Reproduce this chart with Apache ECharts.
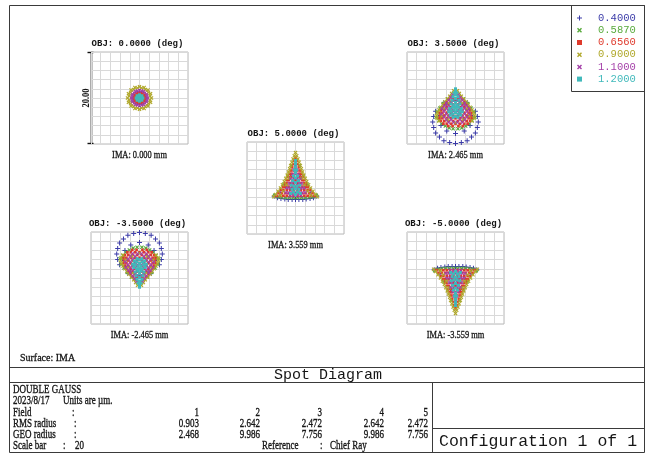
<!DOCTYPE html>
<html>
<head>
<meta charset="utf-8">
<script src="https://cdn.jsdelivr.net/npm/echarts@6/dist/echarts.min.js"></script>
<style>
html,body{margin:0;padding:0;background:#fff;}
#chart{width:653px;height:455px;}
</style>
</head>
<body>
<div id="chart"></div>
<script>
// ---- Wavelengths (µm) and field information ----
const wavelengths = ['0.4000', '0.5870', '0.6560', '0.9000', '1.1000', '1.2000'];
const objLabels = ['OBJ: 0.0000 (deg)', 'OBJ: 3.5000 (deg)', 'OBJ: 5.0000 (deg)', 'OBJ: -3.5000 (deg)', 'OBJ: -5.0000 (deg)'];
const imaLabels = ['IMA: 0.000 mm', 'IMA: 2.465 mm', 'IMA: 3.559 mm', 'IMA: -2.465 mm', 'IMA: -3.559 mm'];
const fieldNumbers = ['1', '2', '3', '4', '5'];
const rmsRadius = ['0.903', '2.642', '2.472', '2.642', '2.472'];
const geoRadius = ['2.468', '9.986', '7.756', '9.986', '7.756'];
const scaleBar = 20; // µm, full box size
const axisTicks = [-10, -8, -6, -4, -2, 0, 2, 4, 6, 8, 10];

// ---- Spot positions relative to chief ray, µm [x, y] ----
// Field 1 (0 deg)
const f1_w1 = [[0,0],[1.4,0],[1.21,0.7],[0.7,1.21],[0,1.4],[-0.7,1.21],[-1.21,0.7],[-1.4,0],[-1.21,-0.7],[-0.7,-1.21],[0,-1.4],[0.7,-1.21],[1.21,-0.7]];
const f1_w2 = [[1,0],[0.87,0.5],[0.5,0.87],[0,1],[-0.5,0.87],[-0.87,0.5],[-1,0],[-0.87,-0.5],[-0.5,-0.87],[0,-1],[0.5,-0.87],[0.87,-0.5]];
const f1_w3 = [[1.2,0],[1.04,0.6],[0.6,1.04],[0,1.2],[-0.6,1.04],[-1.04,0.6],[-1.2,0],[-1.04,-0.6],[-0.6,-1.04],[0,-1.2],[0.6,-1.04],[1.04,-0.6],
  [0.64,0.64],[-0.64,0.64],[-0.64,-0.64],[0.64,-0.64],[0.9,0],[0,0.9],[-0.9,0],[0,-0.9]];
const f1_w4 = [[2.47,0],[2.28,0.95],[1.75,1.75],[0.95,2.28],[0,2.47],[-0.95,2.28],[-1.75,1.75],[-2.28,0.95],[-2.47,0],[-2.28,-0.95],[-1.75,-1.75],[-0.95,-2.28],[0,-2.47],[0.95,-2.28],[1.75,-1.75],[2.28,-0.95],
  [2.16,0.43],[1.83,1.22],[1.22,1.83],[0.43,2.16],[-0.43,2.16],[-1.22,1.83],[-1.83,1.22],[-2.16,0.43],[-2.16,-0.43],[-1.83,-1.22],[-1.22,-1.83],[-0.43,-2.16],[0.43,-2.16],[1.22,-1.83],[1.83,-1.22],[2.16,-0.43]];
const f1_w5 = [[1.65,0],[1.43,0.83],[0.83,1.43],[0,1.65],[-0.83,1.43],[-1.43,0.83],[-1.65,0],[-1.43,-0.83],[-0.83,-1.43],[0,-1.65],[0.83,-1.43],[1.43,-0.83],
  [1.55,0.41],[1.13,1.13],[0.41,1.55],[-0.41,1.55],[-1.13,1.13],[-1.55,0.41],[-1.55,-0.41],[-1.13,-1.13],[-0.41,-1.55],[0.41,-1.55],[1.13,-1.13],[1.55,-0.41]];
const f1_w6 = [[0,0],[0.35,0],[0.18,0.3],[-0.18,0.3],[-0.35,0],[-0.18,-0.3],[0.18,-0.3],[0.7,0],[0.49,0.49],[0,0.7],[-0.49,0.49],[-0.7,0],[-0.49,-0.49],[0,-0.7],[0.49,-0.49]];

// Field 2 (3.5 deg): coma fan opening downward
const f2_w1 = [[4.1,-2.9],[4.5,-4.0],[4.7,-5.2],[4.5,-6.4],[4.1,-7.6],[3.3,-8.5],[2.4,-9.3],[1.2,-9.7],[0,-9.9],[-1.2,-9.7],[-2.4,-9.3],[-3.3,-8.5],[-4.1,-7.6],[-4.5,-6.4],[-4.7,-5.2],[-4.5,-4.0],[-4.1,-2.9],[-2.4,-1.1],[0,-0.5],[2.4,-1.1],
  [3.5,-4.2],[3.0,-2.5],[3.0,-6.0],[1.8,-7.2],[0,-7.7],[-1.8,-7.2],[-3.0,-6.0],[-3.5,-4.2],[-3.0,-2.5],[-1.8,-1.2],[0,-0.7],[1.8,-1.2]];
const f2_w2 = [[0.5,-6.7],[-0.5,-6.7],[1.3,-6.5],[-1.3,-6.5],[2.1,-6.1],[-2.1,-6.1],[2.8,-5.6],[-2.8,-5.6],[3.4,-4.9],[-3.4,-4.9],[4.0,-4.2],[-4.0,-4.2],
  [3.8,-3.0],[-3.8,-3.0],[3.2,-2.2],[-3.2,-2.2],[2.5,-1.2],[-2.5,-1.2],[1.6,-0.2],[-1.6,-0.2]];
const f2_w3 = [[0.35,1.0],[-0.35,1.0],[0.8,0.4],[-0.8,0.4],[0.6,-0.2],[-0.6,-0.2],[1.3,-0.2],[-1.3,-0.2],
  [0,-0.8],[0.9,-0.8],[-0.9,-0.8],[1.8,-0.8],[-1.8,-0.8],
  [0.5,-1.4],[-0.5,-1.4],[1.4,-1.4],[-1.4,-1.4],[2.2,-1.4],[-2.2,-1.4],
  [0,-2.0],[0.9,-2.0],[-0.9,-2.0],[1.8,-2.0],[-1.8,-2.0],[2.6,-2.0],[-2.6,-2.0],
  [0.5,-2.6],[-0.5,-2.6],[1.4,-2.6],[-1.4,-2.6],[2.3,-2.6],[-2.3,-2.6],[3.0,-2.6],[-3.0,-2.6],
  [0,-3.2],[0.9,-3.2],[-0.9,-3.2],[1.8,-3.2],[-1.8,-3.2],[2.7,-3.2],[-2.7,-3.2],[3.3,-3.2],[-3.3,-3.2],
  [0.5,-3.8],[-0.5,-3.8],[1.4,-3.8],[-1.4,-3.8],[2.3,-3.8],[-2.3,-3.8],[3.2,-3.8],[-3.2,-3.8],
  [0,-4.4],[0.9,-4.4],[-0.9,-4.4],[1.8,-4.4],[-1.8,-4.4],[2.7,-4.4],[-2.7,-4.4],[3.3,-4.4],[-3.3,-4.4],
  [0.5,-5.0],[-0.5,-5.0],[1.4,-5.0],[-1.4,-5.0],[2.3,-5.0],[-2.3,-5.0],[3.0,-5.0],[-3.0,-5.0],
  [0,-5.6],[0.9,-5.6],[-0.9,-5.6],[1.8,-5.6],[-1.8,-5.6],[2.5,-5.6],[-2.5,-5.6],
  [0.6,-6.1],[-0.6,-6.1],[1.5,-6.1],[-1.5,-6.1]];
const f2_w4 = [[0.4,1.6],[-0.4,1.6],[0.8,1.0],[-0.8,1.0],[1.2,0.4],[-1.2,0.4],[1.7,-0.2],[-1.7,-0.2],[2.2,-0.8],[-2.2,-0.8],[2.6,-1.4],[-2.6,-1.4],
  [3.0,-2.0],[-3.0,-2.0],[3.4,-2.6],[-3.4,-2.6],[3.7,-3.2],[-3.7,-3.2],[3.9,-3.8],[-3.9,-3.8],[3.8,-4.4],[-3.8,-4.4],[3.4,-5.0],[-3.4,-5.0],
  [1.4,-1.1],[-1.4,-1.1],[2.3,-2.3],[-2.3,-2.3],[0.9,-2.9],[-0.9,-2.9],[2.8,-3.9],[-2.8,-3.9],[1.6,-4.7],[-1.6,-4.7],[0,-5.4]];
const f2_w5 = [[0.6,0.7],[-0.6,0.7],[1.0,0.1],[-1.0,0.1],[0.4,-0.5],[-0.4,-0.5],[1.4,-0.5],[-1.4,-0.5],
  [0.9,-1.1],[-0.9,-1.1],[1.9,-1.1],[-1.9,-1.1],[0.4,-1.7],[-0.4,-1.7],[1.4,-1.7],[-1.4,-1.7],[2.3,-1.7],[-2.3,-1.7],
  [0.9,-2.3],[-0.9,-2.3],[1.9,-2.3],[-1.9,-2.3],[2.8,-2.3],[-2.8,-2.3],[0.4,-2.9],[-0.4,-2.9],[1.4,-2.9],[-1.4,-2.9],[2.4,-2.9],[-2.4,-2.9],
  [0.9,-3.5],[-0.9,-3.5],[1.9,-3.5],[-1.9,-3.5],[2.9,-3.5],[-2.9,-3.5],[0.4,-4.1],[-0.4,-4.1],[1.4,-4.1],[-1.4,-4.1],[2.4,-4.1],[-2.4,-4.1],
  [0.9,-4.7],[-0.9,-4.7],[1.9,-4.7],[-1.9,-4.7],[0.4,-5.3],[-0.4,-5.3],[1.4,-5.3],[-1.4,-5.3]];
const f2_w6 = [[0,2.0],[0,1.5],[0.3,1.1],[-0.3,1.1],[0,0.7],[0.5,0.3],[-0.5,0.3],[0,-0.1],[0.7,-0.5],[-0.7,-0.5],[0,-0.9],[0.9,-1.3],[-0.9,-1.3],
  [0.3,-1.5],[-0.3,-1.5],[0,-2.0],[0.6,-2.0],[-0.6,-2.0],[1.2,-2.3],[-1.2,-2.3],[0.3,-2.6],[-0.3,-2.6],[0.9,-2.9],[-0.9,-2.9],[1.4,-3.0],[-1.4,-3.0],
  [0,-3.2],[0.6,-3.5],[-0.6,-3.5],[1.1,-3.7],[-1.1,-3.7],[0,-4.0],[0.5,-4.2],[-0.5,-4.2]];

// Field 3 (5 deg): triangular spot, apex up
const f3_w1 = [[-4.4,-1.8],[-3.7,-2.1],[-3.0,-2.3],[-2.2,-2.4],[-1.5,-2.5],[-0.7,-2.5],[0,-2.5],[0.7,-2.5],[1.5,-2.5],[2.2,-2.4],[3.0,-2.3],[3.7,-2.1],[4.4,-1.8],
  [0,5.2],[-1.0,2.4],[1.0,2.4],[-2.1,0.4],[2.1,0.4],[-3.2,-0.9],[3.2,-0.9]];
const f3_w2 = [[4.3,-1.6],[-4.3,-1.6],[3.6,-1.9],[-3.6,-1.9],[2.8,-2.0],[-2.8,-2.0],[2.0,-2.1],[-2.0,-2.1],[1.2,-2.1],[-1.2,-2.1],[0.4,-2.1],[-0.4,-2.1],
  [2.4,0.8],[-2.4,0.8],[1.6,2.6],[-1.6,2.6],[0.8,4.8],[-0.8,4.8]];
const f3_w3 = [[0,6.6],[0.3,5.9],[-0.3,5.9],[0.4,5.2],[-0.4,5.2],[0,4.5],[0.7,4.5],[-0.7,4.5],[0.4,3.8],[-0.4,3.8],[1.0,3.8],[-1.0,3.8],
  [0,3.1],[0.7,3.1],[-0.7,3.1],[1.2,3.1],[-1.2,3.1],[0.4,2.4],[-0.4,2.4],[1.0,2.4],[-1.0,2.4],[1.5,2.4],[-1.5,2.4],
  [0,1.7],[0.7,1.7],[-0.7,1.7],[1.4,1.7],[-1.4,1.7],[1.8,1.7],[-1.8,1.7],[0.4,1.0],[-0.4,1.0],[1.1,1.0],[-1.1,1.0],[1.8,1.0],[-1.8,1.0],[2.1,1.0],[-2.1,1.0],
  [0,0.3],[0.7,0.3],[-0.7,0.3],[1.4,0.3],[-1.4,0.3],[2.1,0.3],[-2.1,0.3],[2.5,0.3],[-2.5,0.3],
  [0.4,-0.4],[-0.4,-0.4],[1.1,-0.4],[-1.1,-0.4],[1.8,-0.4],[-1.8,-0.4],[2.5,-0.4],[-2.5,-0.4],[3.0,-0.4],[-3.0,-0.4],
  [0,-1.1],[0.7,-1.1],[-0.7,-1.1],[1.4,-1.1],[-1.4,-1.1],[2.1,-1.1],[-2.1,-1.1],[2.8,-1.1],[-2.8,-1.1],[3.5,-1.1],[-3.5,-1.1],
  [0.4,-1.7],[-0.4,-1.7],[1.1,-1.7],[-1.1,-1.7],[1.8,-1.7],[-1.8,-1.7],[2.5,-1.7],[-2.5,-1.7],[3.2,-1.7],[-3.2,-1.7],[3.9,-1.7],[-3.9,-1.7]];
const f3_w4 = [[0,7.7],[0.25,7.0],[-0.25,7.0],[0.5,6.3],[-0.5,6.3],[0.75,5.6],[-0.75,5.6],[1.0,4.9],[-1.0,4.9],[1.2,4.2],[-1.2,4.2],[1.45,3.5],[-1.45,3.5],
  [1.7,2.8],[-1.7,2.8],[2.0,2.1],[-2.0,2.1],[2.3,1.4],[-2.3,1.4],[2.7,0.7],[-2.7,0.7],[3.1,0.0],[-3.1,0.0],[3.6,-0.7],[-3.6,-0.7],[4.1,-1.4],[-4.1,-1.4],[4.5,-1.9],[-4.5,-1.9],
  [1.3,2.1],[-1.3,2.1],[1.9,0.7],[-1.9,0.7],[2.5,-0.7],[-2.5,-0.7],[3.1,-1.6],[-3.1,-1.6]];
const f3_w5 = [[0,5.0],[0.3,4.0],[-0.3,4.0],[0,3.0],[0.6,3.0],[-0.6,3.0],[0.4,2.0],[-0.4,2.0],[1.0,2.0],[-1.0,2.0],
  [0,1.0],[0.7,1.0],[-0.7,1.0],[1.3,1.0],[-1.3,1.0],[0.4,0.0],[-0.4,0.0],[1.1,0.0],[-1.1,0.0],[1.7,0.0],[-1.7,0.0],
  [0,-1.0],[0.7,-1.0],[-0.7,-1.0],[1.4,-1.0],[-1.4,-1.0],[2.0,-1.0],[-2.0,-1.0],[0.4,-1.6],[-0.4,-1.6],[1.1,-1.6],[-1.1,-1.6]];
const f3_w6 = [[0,6.0],[0,5.3],[0,4.6],[0.2,3.9],[-0.2,3.9],[0,3.3],[0.4,2.6],[-0.4,2.6],[0,2.2],[0.6,1.6],[-0.6,1.6],[0,1.2],[0.9,0.6],[-0.9,0.6],
  [0.3,0.4],[-0.3,0.4],[0,-0.2],[0.7,-0.3],[-0.7,-0.3],[0.4,-0.9],[-0.4,-0.9],[1.0,-1.2],[-1.0,-1.2],[0,-1.4]];

// Field 4 (-3.5 deg): coma fan opening upward
const f4_w1 = [[4.1,2.9],[4.5,4.0],[4.7,5.2],[4.5,6.4],[4.1,7.6],[3.3,8.5],[2.4,9.3],[1.2,9.7],[0,9.9],[-1.2,9.7],[-2.4,9.3],[-3.3,8.5],[-4.1,7.6],[-4.5,6.4],[-4.7,5.2],[-4.5,4.0],[-4.1,2.9],[-2.4,1.1],[0,0.5],[2.4,1.1],
  [3.5,4.2],[3.0,2.5],[3.0,6.0],[1.8,7.2],[0,7.7],[-1.8,7.2],[-3.0,6.0],[-3.5,4.2],[-3.0,2.5],[-1.8,1.2],[0,0.7],[1.8,1.2]];
const f4_w2 = [[0.5,6.7],[-0.5,6.7],[1.3,6.5],[-1.3,6.5],[2.1,6.1],[-2.1,6.1],[2.8,5.6],[-2.8,5.6],[3.4,4.9],[-3.4,4.9],[4.0,4.2],[-4.0,4.2],
  [3.8,3.0],[-3.8,3.0],[3.2,2.2],[-3.2,2.2],[2.5,1.2],[-2.5,1.2],[1.6,0.2],[-1.6,0.2]];
const f4_w3 = [[0.35,-1.0],[-0.35,-1.0],[0.8,-0.4],[-0.8,-0.4],[0.6,0.2],[-0.6,0.2],[1.3,0.2],[-1.3,0.2],
  [0,0.8],[0.9,0.8],[-0.9,0.8],[1.8,0.8],[-1.8,0.8],
  [0.5,1.4],[-0.5,1.4],[1.4,1.4],[-1.4,1.4],[2.2,1.4],[-2.2,1.4],
  [0,2.0],[0.9,2.0],[-0.9,2.0],[1.8,2.0],[-1.8,2.0],[2.6,2.0],[-2.6,2.0],
  [0.5,2.6],[-0.5,2.6],[1.4,2.6],[-1.4,2.6],[2.3,2.6],[-2.3,2.6],[3.0,2.6],[-3.0,2.6],
  [0,3.2],[0.9,3.2],[-0.9,3.2],[1.8,3.2],[-1.8,3.2],[2.7,3.2],[-2.7,3.2],[3.3,3.2],[-3.3,3.2],
  [0.5,3.8],[-0.5,3.8],[1.4,3.8],[-1.4,3.8],[2.3,3.8],[-2.3,3.8],[3.2,3.8],[-3.2,3.8],
  [0,4.4],[0.9,4.4],[-0.9,4.4],[1.8,4.4],[-1.8,4.4],[2.7,4.4],[-2.7,4.4],[3.3,4.4],[-3.3,4.4],
  [0.5,5.0],[-0.5,5.0],[1.4,5.0],[-1.4,5.0],[2.3,5.0],[-2.3,5.0],[3.0,5.0],[-3.0,5.0],
  [0,5.6],[0.9,5.6],[-0.9,5.6],[1.8,5.6],[-1.8,5.6],[2.5,5.6],[-2.5,5.6],
  [0.6,6.1],[-0.6,6.1],[1.5,6.1],[-1.5,6.1]];
const f4_w4 = [[0.4,-1.6],[-0.4,-1.6],[0.8,-1.0],[-0.8,-1.0],[1.2,-0.4],[-1.2,-0.4],[1.7,0.2],[-1.7,0.2],[2.2,0.8],[-2.2,0.8],[2.6,1.4],[-2.6,1.4],
  [3.0,2.0],[-3.0,2.0],[3.4,2.6],[-3.4,2.6],[3.7,3.2],[-3.7,3.2],[3.9,3.8],[-3.9,3.8],[3.8,4.4],[-3.8,4.4],[3.4,5.0],[-3.4,5.0],
  [1.4,1.1],[-1.4,1.1],[2.3,2.3],[-2.3,2.3],[0.9,2.9],[-0.9,2.9],[2.8,3.9],[-2.8,3.9],[1.6,4.7],[-1.6,4.7],[0,5.4]];
const f4_w5 = [[0.6,-0.7],[-0.6,-0.7],[1.0,-0.1],[-1.0,-0.1],[0.4,0.5],[-0.4,0.5],[1.4,0.5],[-1.4,0.5],
  [0.9,1.1],[-0.9,1.1],[1.9,1.1],[-1.9,1.1],[0.4,1.7],[-0.4,1.7],[1.4,1.7],[-1.4,1.7],[2.3,1.7],[-2.3,1.7],
  [0.9,2.3],[-0.9,2.3],[1.9,2.3],[-1.9,2.3],[2.8,2.3],[-2.8,2.3],[0.4,2.9],[-0.4,2.9],[1.4,2.9],[-1.4,2.9],[2.4,2.9],[-2.4,2.9],
  [0.9,3.5],[-0.9,3.5],[1.9,3.5],[-1.9,3.5],[2.9,3.5],[-2.9,3.5],[0.4,4.1],[-0.4,4.1],[1.4,4.1],[-1.4,4.1],[2.4,4.1],[-2.4,4.1],
  [0.9,4.7],[-0.9,4.7],[1.9,4.7],[-1.9,4.7],[0.4,5.3],[-0.4,5.3],[1.4,5.3],[-1.4,5.3]];
const f4_w6 = [[0,-2.0],[0,-1.5],[0.3,-1.1],[-0.3,-1.1],[0,-0.7],[0.5,-0.3],[-0.5,-0.3],[0,0.1],[0.7,0.5],[-0.7,0.5],[0,0.9],[0.9,1.3],[-0.9,1.3],
  [0.3,1.5],[-0.3,1.5],[0,2.0],[0.6,2.0],[-0.6,2.0],[1.2,2.3],[-1.2,2.3],[0.3,2.6],[-0.3,2.6],[0.9,2.9],[-0.9,2.9],[1.4,3.0],[-1.4,3.0],
  [0,3.2],[0.6,3.5],[-0.6,3.5],[1.1,3.7],[-1.1,3.7],[0,4.0],[0.5,4.2],[-0.5,4.2]];

// Field 5 (-5 deg): triangular spot, apex down
const f5_w1 = [[-4.4,1.8],[-3.7,2.1],[-3.0,2.3],[-2.2,2.4],[-1.5,2.5],[-0.7,2.5],[0,2.5],[0.7,2.5],[1.5,2.5],[2.2,2.4],[3.0,2.3],[3.7,2.1],[4.4,1.8],
  [0,-5.2],[-1.0,-2.4],[1.0,-2.4],[-2.1,-0.4],[2.1,-0.4],[-3.2,0.9],[3.2,0.9]];
const f5_w2 = [[4.3,1.6],[-4.3,1.6],[3.6,1.9],[-3.6,1.9],[2.8,2.0],[-2.8,2.0],[2.0,2.1],[-2.0,2.1],[1.2,2.1],[-1.2,2.1],[0.4,2.1],[-0.4,2.1],
  [2.4,-0.8],[-2.4,-0.8],[1.6,-2.6],[-1.6,-2.6],[0.8,-4.8],[-0.8,-4.8]];
const f5_w3 = [[0,-6.6],[0.3,-5.9],[-0.3,-5.9],[0.4,-5.2],[-0.4,-5.2],[0,-4.5],[0.7,-4.5],[-0.7,-4.5],[0.4,-3.8],[-0.4,-3.8],[1.0,-3.8],[-1.0,-3.8],
  [0,-3.1],[0.7,-3.1],[-0.7,-3.1],[1.2,-3.1],[-1.2,-3.1],[0.4,-2.4],[-0.4,-2.4],[1.0,-2.4],[-1.0,-2.4],[1.5,-2.4],[-1.5,-2.4],
  [0,-1.7],[0.7,-1.7],[-0.7,-1.7],[1.4,-1.7],[-1.4,-1.7],[1.8,-1.7],[-1.8,-1.7],[0.4,-1.0],[-0.4,-1.0],[1.1,-1.0],[-1.1,-1.0],[1.8,-1.0],[-1.8,-1.0],[2.1,-1.0],[-2.1,-1.0],
  [0,-0.3],[0.7,-0.3],[-0.7,-0.3],[1.4,-0.3],[-1.4,-0.3],[2.1,-0.3],[-2.1,-0.3],[2.5,-0.3],[-2.5,-0.3],
  [0.4,0.4],[-0.4,0.4],[1.1,0.4],[-1.1,0.4],[1.8,0.4],[-1.8,0.4],[2.5,0.4],[-2.5,0.4],[3.0,0.4],[-3.0,0.4],
  [0,1.1],[0.7,1.1],[-0.7,1.1],[1.4,1.1],[-1.4,1.1],[2.1,1.1],[-2.1,1.1],[2.8,1.1],[-2.8,1.1],[3.5,1.1],[-3.5,1.1],
  [0.4,1.7],[-0.4,1.7],[1.1,1.7],[-1.1,1.7],[1.8,1.7],[-1.8,1.7],[2.5,1.7],[-2.5,1.7],[3.2,1.7],[-3.2,1.7],[3.9,1.7],[-3.9,1.7]];
const f5_w4 = [[0,-7.7],[0.25,-7.0],[-0.25,-7.0],[0.5,-6.3],[-0.5,-6.3],[0.75,-5.6],[-0.75,-5.6],[1.0,-4.9],[-1.0,-4.9],[1.2,-4.2],[-1.2,-4.2],[1.45,-3.5],[-1.45,-3.5],
  [1.7,-2.8],[-1.7,-2.8],[2.0,-2.1],[-2.0,-2.1],[2.3,-1.4],[-2.3,-1.4],[2.7,-0.7],[-2.7,-0.7],[3.1,0.0],[-3.1,0.0],[3.6,0.7],[-3.6,0.7],[4.1,1.4],[-4.1,1.4],[4.5,1.9],[-4.5,1.9],
  [1.3,-2.1],[-1.3,-2.1],[1.9,-0.7],[-1.9,-0.7],[2.5,0.7],[-2.5,0.7],[3.1,1.6],[-3.1,1.6]];
const f5_w5 = [[0,-5.0],[0.3,-4.0],[-0.3,-4.0],[0,-3.0],[0.6,-3.0],[-0.6,-3.0],[0.4,-2.0],[-0.4,-2.0],[1.0,-2.0],[-1.0,-2.0],
  [0,-1.0],[0.7,-1.0],[-0.7,-1.0],[1.3,-1.0],[-1.3,-1.0],[0.4,0.0],[-0.4,0.0],[1.1,0.0],[-1.1,0.0],[1.7,0.0],[-1.7,0.0],
  [0,1.0],[0.7,1.0],[-0.7,1.0],[1.4,1.0],[-1.4,1.0],[2.0,1.0],[-2.0,1.0],[0.4,1.6],[-0.4,1.6],[1.1,1.6],[-1.1,1.6]];
const f5_w6 = [[0,-6.0],[0,-5.3],[0,-4.6],[0.2,-3.9],[-0.2,-3.9],[0,-3.3],[0.4,-2.6],[-0.4,-2.6],[0,-2.2],[0.6,-1.6],[-0.6,-1.6],[0,-1.2],[0.9,-0.6],[-0.9,-0.6],
  [0.3,-0.4],[-0.3,-0.4],[0,0.2],[0.7,0.3],[-0.7,0.3],[0.4,0.9],[-0.4,0.9],[1.0,1.2],[-1.0,1.2],[0,1.4]];

const spotsByField = [
  [f1_w1, f1_w2, f1_w3, f1_w4, f1_w5, f1_w6],
  [f2_w1, f2_w2, f2_w3, f2_w4, f2_w5, f2_w6],
  [f3_w1, f3_w2, f3_w3, f3_w4, f3_w5, f3_w6],
  [f4_w1, f4_w2, f4_w3, f4_w4, f4_w5, f4_w6],
  [f5_w1, f5_w2, f5_w3, f5_w4, f5_w5, f5_w6]
];

// ---- Styling ----
const waveColors = ['#3b3ba8', '#58aa3c', '#df3a2c', '#b0a82a', '#a43fa8', '#40b9bb'];
const PLUS = 'path://M2,0H3V2H5V3H3V5H2V3H0V2H2Z';
const CROSS = 'path://M0,1L1,0L2.5,1.5L4,0L5,1L3.5,2.5L5,4L4,5L2.5,3.5L1,5L0,4L1.5,2.5Z';
const waveSymbols = [PLUS, CROSS, 'rect', CROSS, CROSS, 'rect'];
const waveSizes = [5, 4, 2.7, 4, 3.6, 3];

const MONO = "'Liberation Mono','DejaVu Sans Mono',monospace";
const SERIF = "'Liberation Serif','DejaVu Serif',serif";
const INK = '#151515';
const FRAME = '#3a3a3a';

// plot boxes [left, top]
const BOX_W = 97, BOX_H = 92;
const boxes = [[91, 52], [407, 52], [247, 142], [91, 232], [407, 232]];

const grids = boxes.map(b => ({
  left: b[0], top: b[1], width: BOX_W, height: BOX_H,
  show: true, borderColor: '#b8b8b8', borderWidth: 1, backgroundColor: '#fff'
}));
const axisBase = {
  type: 'value', min: axisTicks[0], max: axisTicks[axisTicks.length - 1], interval: 2,
  axisLine: { show: false }, axisTick: { show: false }, axisLabel: { show: false },
  splitLine: { show: true, lineStyle: { color: '#d9d9d9', width: 1 } }
};
const xAxes = boxes.map((b, i) => Object.assign({ gridIndex: i }, axisBase));
const yAxes = boxes.map((b, i) => Object.assign({ gridIndex: i }, axisBase));

const series = [];
spotsByField.forEach((waves, fi) => {
  waves.forEach((pts, wi) => {
    series.push({
      type: 'scatter', name: wavelengths[wi],
      xAxisIndex: fi, yAxisIndex: fi,
      data: pts, symbol: waveSymbols[wi], symbolSize: waveSizes[wi],
      itemStyle: { color: waveColors[wi], opacity: 1 },
      silent: true, z: 3 + wi, animation: false
    });
  });
});

// text helper; weight > 0 adds a hairline outline to darken serif lettering
function text(x, y, str, font, align, scaleX, weight) {
  const style = {
    text: str, font: font, fill: INK,
    align: align || 'left', verticalAlign: 'middle',
    textAlign: align || 'left', textVerticalAlign: 'middle'
  };
  if (weight) { style.stroke = INK; style.lineWidth = weight; }
  return { type: 'text', x: x, y: y, scaleX: scaleX || 1, silent: true, style: style };
}
function hline(x1, x2, y, w) {
  return { type: 'line', silent: true, shape: { x1: x1, y1: y, x2: x2, y2: y }, style: { stroke: FRAME, lineWidth: w || 1 } };
}
function vline(x, y1, y2, w) {
  return { type: 'line', silent: true, shape: { x1: x, y1: y1, x2: x, y2: y2 }, style: { stroke: FRAME, lineWidth: w || 1 } };
}

const OBJ_FONT = 'bold 9px ' + MONO;
const IMA_FONT = '10.5px ' + SERIF;
const TABLE_FONT = '12.5px ' + SERIF;
const TS = 0.72; // horizontal squeeze of the info block lettering
const TW = 0.35; // outline weight of the info block lettering

const graphics = [];
// outer frame and panel dividers
graphics.push({ type: 'rect', silent: true, shape: { x: 9.5, y: 5.5, width: 635, height: 447 }, style: { fill: 'none', stroke: FRAME, lineWidth: 1 } });
graphics.push({ type: 'rect', silent: true, shape: { x: 571.5, y: 5.5, width: 73, height: 86 }, style: { fill: 'none', stroke: FRAME, lineWidth: 1 } });
graphics.push(hline(9.5, 644.5, 367.5));
graphics.push(hline(9.5, 644.5, 382.5));
graphics.push(vline(432.5, 382.5, 452.5));
graphics.push(hline(432.5, 644.5, 428.5));

// field captions
boxes.forEach((b, i) => {
  const cx = b[0] + BOX_W / 2;
  graphics.push(text(cx - 2, b[1] - 8, objLabels[i], OBJ_FONT, 'center', 1));
  graphics.push(text(cx, b[1] + BOX_H + 11, imaLabels[i], IMA_FONT, 'center', 0.8, 0.3));
});

// scale bar beside the first box
const sb = boxes[0];
graphics.push(vline(sb[0] + 0.5, sb[1], sb[1] + BOX_H, 1.6));
graphics.push({ type: 'line', silent: true, shape: { x1: sb[0] - 3.5, y1: sb[1] + 0.5, x2: sb[0] + 2.5, y2: sb[1] + 0.5 }, style: { stroke: '#111', lineWidth: 1.4 } });
graphics.push({ type: 'line', silent: true, shape: { x1: sb[0] - 3.5, y1: sb[1] + BOX_H - 0.5, x2: sb[0] + 2.5, y2: sb[1] + BOX_H - 0.5 }, style: { stroke: '#111', lineWidth: 1.4 } });
graphics.push({
  type: 'text', silent: true, x: sb[0] - 5, y: sb[1] + BOX_H / 2, rotation: Math.PI / 2, scaleX: 0.85,
  style: { text: scaleBar.toFixed(2), font: 'bold 10px ' + SERIF, fill: INK, align: 'center', verticalAlign: 'middle', textAlign: 'center', textVerticalAlign: 'middle' }
});

graphics.push(text(20, 358, 'Surface: IMA', IMA_FONT, 'left', 0.95, 0.3));

// title strip
graphics.push(text(328, 375, 'Spot Diagram', '15px ' + MONO, 'center', 1));

// info block
const rowY = [389.5, 401, 412.5, 423.5, 434.5, 446];
const LX = 13;
graphics.push(text(LX, rowY[0], 'DOUBLE GAUSS', TABLE_FONT, 'left', TS, TW));
graphics.push(text(LX, rowY[1], '2023/8/17', TABLE_FONT, 'left', TS, TW));
graphics.push(text(63, rowY[1], 'Units are \u00b5m.', TABLE_FONT, 'left', TS, TW));
graphics.push(text(LX, rowY[2], 'Field', TABLE_FONT, 'left', TS, TW));
graphics.push(text(72, rowY[2], ':', TABLE_FONT, 'left', TS, TW));
graphics.push(text(LX, rowY[3], 'RMS radius', TABLE_FONT, 'left', TS, TW));
graphics.push(text(74, rowY[3], ':', TABLE_FONT, 'left', TS, TW));
graphics.push(text(LX, rowY[4], 'GEO radius', TABLE_FONT, 'left', TS, TW));
graphics.push(text(74, rowY[4], ':', TABLE_FONT, 'left', TS, TW));
graphics.push(text(LX, rowY[5], 'Scale bar', TABLE_FONT, 'left', TS, TW));
graphics.push(text(63, rowY[5], ':', TABLE_FONT, 'left', TS, TW));
graphics.push(text(75, rowY[5], String(scaleBar), TABLE_FONT, 'left', TS, TW));
graphics.push(text(262, rowY[5], 'Reference', TABLE_FONT, 'left', TS, TW));
graphics.push(text(320, rowY[5], ':', TABLE_FONT, 'left', TS, TW));
graphics.push(text(330, rowY[5], 'Chief Ray', TABLE_FONT, 'left', TS, TW));
const colRight = [199, 260, 322, 384, 428];
colRight.forEach((x, i) => {
  graphics.push(text(x, rowY[2], fieldNumbers[i], TABLE_FONT, 'right', TS, TW));
  graphics.push(text(x, rowY[3], rmsRadius[i], TABLE_FONT, 'right', TS, TW));
  graphics.push(text(x, rowY[4], geoRadius[i], TABLE_FONT, 'right', TS, TW));
});

graphics.push(text(439, 442, 'Configuration 1 of 1', '16.5px ' + MONO, 'left', 1));

const option = {
  backgroundColor: '#ffffff',
  animation: false,
  grid: grids,
  xAxis: xAxes,
  yAxis: yAxes,
  legend: {
    orient: 'vertical', left: 577, top: 12, itemWidth: 5, itemHeight: 5, itemGap: 0,
    selectedMode: false, padding: 0,
    textStyle: { fontFamily: MONO, fontSize: 10.5, lineHeight: 12.2, padding: [0, 0, 0, 11] },
    data: wavelengths.map((w, i) => ({
      name: w, icon: waveSymbols[i],
      textStyle: { color: waveColors[i] }
    }))
  },
  series: series,
  graphic: { elements: graphics }
};

const chart = echarts.init(document.getElementById('chart'), null, { renderer: 'canvas' });
chart.setOption(option);
</script>
</body>
</html>
